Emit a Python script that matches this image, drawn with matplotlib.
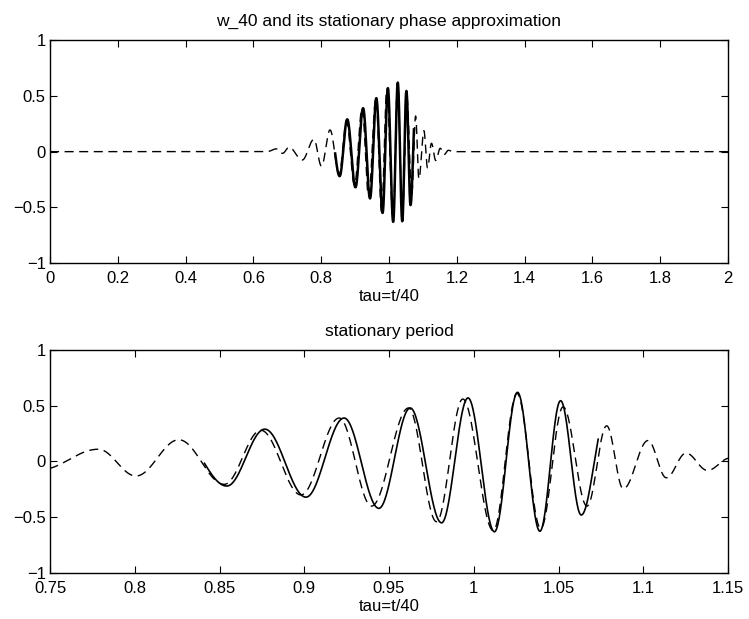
import numpy as np
import matplotlib
matplotlib.use("Agg")
import matplotlib.pyplot as plt

# ---- data: extrema of the curves (x = tau, y = value) ----
# stationary phase approximation (dashed), flat before/after the packet
approx_x = [0.0, 0.64, 0.668, 0.686, 0.705, 0.744, 0.7785, 0.8007, 0.826, 0.8528,
            0.8744, 0.8981, 0.9206, 0.9397, 0.9615, 0.978, 0.9935, 1.0115, 1.0255,
            1.0395, 1.0527, 1.0668, 1.0784, 1.0882, 1.1028, 1.1136, 1.1252, 1.1379,
            1.151, 1.163, 1.175, 1.19, 2.0]
approx_y = [0.0, 0.0, 0.025, -0.015, 0.04, -0.075, 0.11, -0.13, 0.195, -0.205,
            0.28, -0.30, 0.39, -0.40, 0.48, -0.54, 0.56, -0.62, 0.61,
            -0.60, 0.49, -0.40, 0.32, -0.245, 0.188, -0.146, 0.075, -0.08,
            0.03, -0.025, 0.012, 0.0, 0.0]

# w_40 (solid): extrema, drawn only between its start and end
w40_x = [0.827, 0.8543, 0.8767, 0.901, 0.9235, 0.944, 0.9625, 0.981, 0.9966,
         1.0122, 1.0258, 1.039, 1.0512, 1.0634, 1.078]
w40_y = [0.21, -0.22, 0.29, -0.32, 0.39, -0.42, 0.48, -0.55, 0.57,
         -0.63, 0.62, -0.625, 0.545, -0.48, 0.40]
w40_start, w40_end = 0.841, 1.0736

top_xticks = [0, 0.2, 0.4, 0.6, 0.8, 1, 1.2, 1.4, 1.6, 1.8, 2]
top_xlabels = ["0", "0.2", "0.4", "0.6", "0.8", "1", "1.2", "1.4", "1.6", "1.8", "2"]
bot_xticks = [0.75, 0.8, 0.85, 0.9, 0.95, 1.0, 1.05, 1.1, 1.15]
bot_xlabels = ["0.75", "0.8", "0.85", "0.9", "0.95", "1", "1.05", "1.1", "1.15"]
yticks = [-1, -0.5, 0, 0.5, 1]
ylabels = ["\u22121", "\u22120.5", "0", "0.5", "1"]


def wave(xe, ye, n=60):
    """Smooth curve through successive extrema using half-cosine arcs."""
    xs, ys = [], []
    for i in range(len(xe) - 1):
        t = np.linspace(0, 1, n, endpoint=False)
        x0, x1, y0, y1 = xe[i], xe[i + 1], ye[i], ye[i + 1]
        xs.append(x0 + (x1 - x0) * t)
        ys.append((y0 + y1) / 2 + (y0 - y1) / 2 * np.cos(np.pi * t))
    xs.append([xe[-1]]); ys.append([ye[-1]])
    return np.concatenate(xs), np.concatenate(ys)


ax_x, ax_y = wave(approx_x, approx_y)
sx, sy = wave(w40_x, w40_y)
m = (sx >= w40_start) & (sx <= w40_end)
sx, sy = sx[m], sy[m]

plt.rcParams['font.family'] = ['Liberation Sans', 'DejaVu Sans']
fig = plt.figure(figsize=(7.49, 6.19), dpi=100)
fs = 12
fst = 12.5

L, W = 0.0668, 0.9052
ax1 = fig.add_axes([L, 0.575, W, 0.36])
ax2 = fig.add_axes([L, 0.0743, W, 0.3603])

for ax, lw_s in ((ax1, 1.8), (ax2, 1.2)):
    ax.plot(ax_x, ax_y, color='black', lw=1.0, linestyle=(0, (6.5, 4)))
    ax.plot(sx, sy, color='black', lw=lw_s, linestyle='-')
    ax.set_ylim(-1, 1)
    ax.set_yticks(yticks)
    ax.set_yticklabels(ylabels, fontsize=fs)
    ax.tick_params(direction='in', top=True, right=True, length=5, width=0.8)
    ax.tick_params(axis='x', pad=6)
    ax.tick_params(axis='y', pad=3)
    for s in ax.spines.values():
        s.set_linewidth(1.0)
    ax.set_xlabel("tau=t/40", fontsize=fs, labelpad=2)

ax1.set_xlim(0, 2)
ax1.set_xticks(top_xticks)
ax1.set_xticklabels(top_xlabels, fontsize=fs)
ax1.set_title("w_40 and its stationary phase approximation", fontsize=fst, pad=10)

ax2.set_xlim(0.75, 1.15)
ax2.set_xticks(bot_xticks)
ax2.set_xticklabels(bot_xlabels, fontsize=fs)
ax2.set_title("stationary period", fontsize=fst, pad=10)

fig.savefig("out.png", dpi=100)
